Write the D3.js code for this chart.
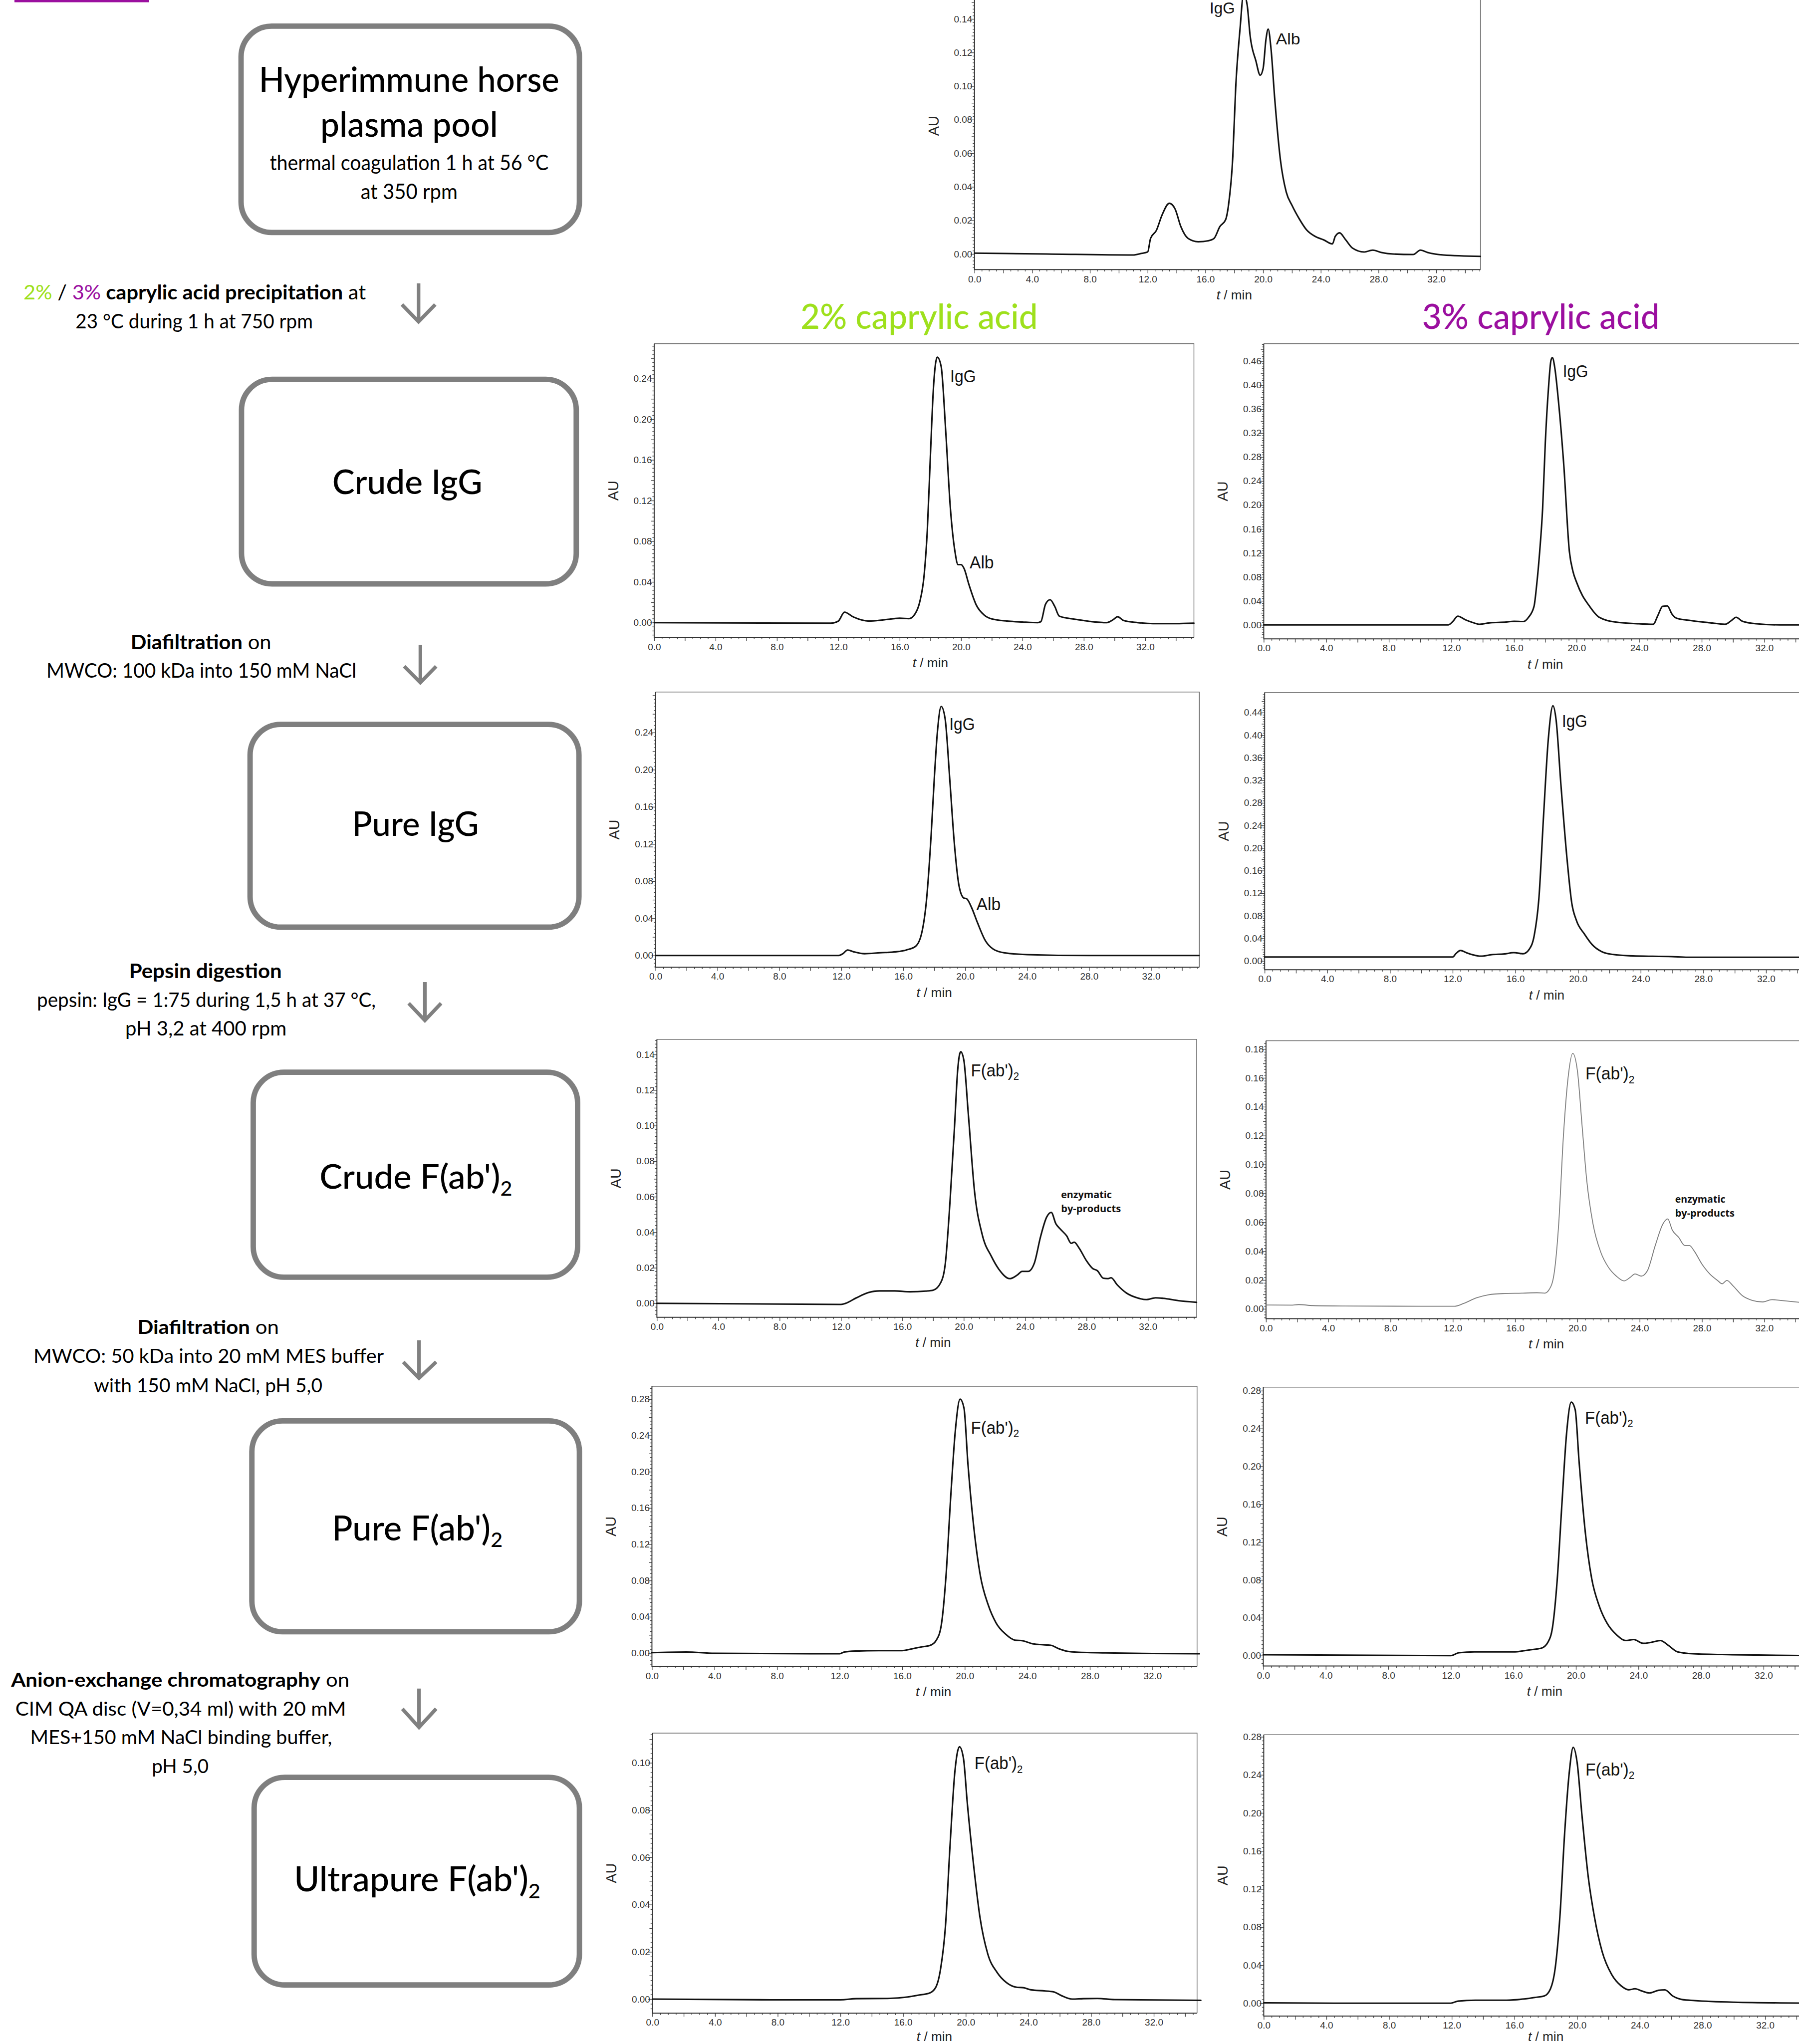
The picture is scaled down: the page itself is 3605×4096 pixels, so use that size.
<!DOCTYPE html>
<html><head><meta charset="utf-8">
<script src="https://cdn.jsdelivr.net/npm/d3@7"></script>
<style>body{margin:0;background:#fff}</style>
</head><body>
<svg id="fig"></svg>
<script>
// ---------------- DATA (t / min, AU) ----------------
const plasmaPool = [[0,0.0005],[5,0],[11,-0.0006],[11.5,0.0002],[12.0,0.0012],[12.2,0.0093],[12.6,0.014],[13.0,0.0233],[13.5,0.0302],[13.9,0.0268],[14.3,0.0163],[14.8,0.0093],[15.5,0.0073],[16.2,0.0079],[16.6,0.0093],[17.0,0.0163],[17.4,0.0204],[17.6,0.029],[17.9,0.058],[18.1,0.099],[18.4,0.134],[18.65,0.155],[18.9,0.148],[19.1,0.130],[19.5,0.115],[19.8,0.1065],[20.0,0.1105],[20.2,0.128],[20.35,0.134],[20.55,0.122],[20.8,0.093],[21.2,0.056],[21.6,0.037],[22.0,0.029],[22.5,0.021],[23.0,0.0145],[23.6,0.0105],[24.2,0.0084],[24.8,0.006],[25.0,0.0105],[25.3,0.0126],[25.7,0.0087],[26.2,0.0035],[27.0,0.0012],[27.6,0.0023],[28.2,0.0009],[29.0,0],[30.4,-0.0003],[30.9,0.0023],[31.4,0.0009],[32.5,-0.0006],[35.06,-0.0014]];
const crudeIgG2 = [[0,0],[11.5,-0.0006],[12.0,0.0015],[12.4,0.0103],[13.0,0.0054],[14.0,0.0015],[15.0,0.0028],[16.0,0.0043],[16.6,0.0039],[17.0,0.0086],[17.3,0.020],[17.6,0.048],[17.8,0.091],[18.0,0.164],[18.2,0.231],[18.45,0.261],[18.7,0.252],[19.0,0.188],[19.3,0.113],[19.6,0.070],[19.8,0.057],[20.0,0.057],[20.2,0.053],[20.5,0.038],[21.0,0.017],[21.5,0.0075],[22.0,0.0036],[23.0,0.0015],[24.0,0.0006],[25.0,0],[25.2,0.001],[25.5,0.018],[25.8,0.0225],[26.1,0.016],[26.4,0.0064],[27.0,0.0043],[27.5,0.0032],[28.5,0.001],[29.5,0],[29.9,0.0028],[30.2,0.0058],[30.6,0.002],[31.5,0],[32.5,-0.001],[34,-0.001],[35.17,-0.0006]];
const crudeIgG3 = [[0,0],[11.8,0],[12.1,0.006],[12.4,0.0145],[12.9,0.0084],[13.4,0.0036],[13.8,0.001],[14.5,0.0036],[15.5,0.0047],[16.0,0.006],[16.6,0.0055],[16.93,0.0127],[17.28,0.031],[17.45,0.067],[17.64,0.122],[17.83,0.195],[18.0,0.304],[18.2,0.394],[18.36,0.441],[18.45,0.446],[18.6,0.43],[18.83,0.376],[19.18,0.267],[19.54,0.122],[19.77,0.089],[20.0,0.071],[20.37,0.049],[20.72,0.035],[21.44,0.0127],[22.5,0.0047],[24.0,0.0018],[24.9,0.001],[25.2,0.016],[25.5,0.031],[25.8,0.0316],[26.1,0.018],[26.4,0.011],[27.3,0.0073],[28.5,0.0036],[29.5,0.001],[29.9,0.0073],[30.2,0.0127],[30.6,0.006],[31.5,0.0018],[33,0],[35.2,0]];
const pureIgG2 = [[0,0],[11.8,0],[12.1,0.002],[12.4,0.006],[12.8,0.004],[13.5,0.002],[14.5,0.003],[15.5,0.004],[16.2,0.006],[16.8,0.010],[17.2,0.025],[17.5,0.06],[17.8,0.13],[18.0,0.19],[18.2,0.24],[18.45,0.268],[18.7,0.255],[19.0,0.19],[19.3,0.12],[19.6,0.075],[19.9,0.062],[20.1,0.061],[20.4,0.052],[20.8,0.035],[21.3,0.016],[21.8,0.007],[22.5,0.003],[24,0.001],[28,0],[35.1,0]];
const pureIgG3 = [[0,0.007],[12.0,0.007],[12.2,0.0128],[12.5,0.0186],[12.9,0.0143],[13.3,0.0108],[13.8,0.0085],[14.5,0.0112],[15.3,0.0124],[15.9,0.0147],[16.5,0.0128],[16.9,0.0213],[17.2,0.0445],[17.5,0.110],[17.8,0.257],[18.1,0.392],[18.4,0.452],[18.6,0.427],[18.9,0.315],[19.3,0.180],[19.6,0.1025],[19.9,0.0715],[20.4,0.048],[20.9,0.029],[21.5,0.0166],[22.2,0.0116],[23.5,0.0089],[26,0.0077],[27,0.0066],[35.2,0.0066]];
const crudeFab2 = [[0,0],[12.0,-0.0006],[12.3,0],[13.0,0.0031],[13.8,0.0061],[14.5,0.007],[15.5,0.007],[16.5,0.0065],[17.5,0.0069],[18.0,0.0074],[18.5,0.0117],[18.8,0.0227],[19.1,0.057],[19.4,0.100],[19.6,0.131],[19.8,0.1416],[20.0,0.137],[20.3,0.106],[20.7,0.063],[21.2,0.0387],[21.8,0.0264],[22.3,0.019],[23.0,0.0139],[23.5,0.016],[23.8,0.018],[24.2,0.018],[24.6,0.0227],[25.0,0.0374],[25.4,0.0485],[25.7,0.0512],[26.0,0.0448],[26.3,0.0417],[26.7,0.038],[27.0,0.0338],[27.2,0.0344],[27.5,0.0313],[28.0,0.0239],[28.4,0.0196],[28.7,0.0184],[29.1,0.0141],[29.4,0.0139],[29.6,0.0144],[30.0,0.0104],[30.6,0.0058],[31.3,0.0031],[31.9,0.0021],[32.5,0.0031],[33.0,0.0028],[34.0,0.0015],[35.17,0.0006]];
const crudeFab3 = [[0,0.0027],[1.6,0.0026],[2.1,0.003],[3.0,0.0023],[5.0,0.002],[10,0.0018],[12.1,0.0018],[12.7,0.0038],[13.5,0.0076],[14.3,0.0098],[15.2,0.0106],[16.5,0.0109],[17.4,0.0112],[17.9,0.0109],[18.2,0.0136],[18.5,0.0242],[18.8,0.059],[19.1,0.1195],[19.4,0.160],[19.7,0.177],[20.0,0.165],[20.3,0.127],[20.6,0.089],[21.0,0.059],[21.5,0.0393],[22.0,0.0287],[22.5,0.0227],[23.0,0.0194],[23.4,0.0219],[23.7,0.0242],[24.1,0.0227],[24.5,0.0265],[25.0,0.0439],[25.5,0.059],[25.8,0.0623],[26.1,0.0545],[26.5,0.0496],[26.9,0.0439],[27.2,0.0439],[27.5,0.0401],[28.0,0.031],[28.5,0.0242],[29.0,0.0197],[29.3,0.0174],[29.6,0.0197],[30.0,0.0159],[30.6,0.0091],[31.2,0.006],[31.9,0.0048],[32.5,0.0064],[33.2,0.0057],[35.2,0.0035]];
const pureFab2 = [[0,0.0005],[2.2,0.0012],[4,-0.0002],[12.0,-0.0007],[12.3,0.0012],[13.0,0.0022],[14.5,0.0027],[16.0,0.0027],[16.5,0.0042],[17.2,0.0067],[17.8,0.0086],[18.2,0.0148],[18.5,0.031],[18.8,0.085],[19.1,0.172],[19.4,0.246],[19.7,0.280],[19.95,0.270],[20.2,0.209],[20.6,0.135],[21.0,0.085],[21.5,0.053],[22.0,0.0333],[22.6,0.021],[23.2,0.0143],[23.7,0.0136],[24.3,0.0104],[24.8,0.0094],[25.5,0.0086],[26.0,0.0049],[26.5,0.0022],[27.0,0.0012],[29,0.0002],[32,-0.0005],[35,-0.0007]];
const pureFab3 = [[0,0.001],[12,0],[12.5,0.003],[13.5,0.004],[16,0.004],[17,0.006],[17.8,0.008],[18.2,0.014],[18.5,0.03],[18.8,0.08],[19.1,0.16],[19.4,0.235],[19.7,0.268],[19.95,0.26],[20.2,0.205],[20.6,0.13],[21.0,0.082],[21.5,0.052],[22.0,0.034],[22.6,0.022],[23.2,0.016],[23.7,0.017],[24.3,0.013],[24.8,0.014],[25.4,0.016],[25.9,0.011],[26.5,0.004],[27.5,0.002],[30,0.001],[35.2,0]];
const ultraFab2 = [[0,0],[8,-0.0003],[12.0,-0.0003],[13,0.0002],[15,0.0003],[16.3,0.0009],[17.0,0.0017],[17.7,0.0026],[18.1,0.0052],[18.4,0.0131],[18.7,0.0305],[19.0,0.0654],[19.3,0.0959],[19.6,0.1068],[19.85,0.102],[20.1,0.0828],[20.5,0.0567],[20.9,0.0349],[21.4,0.0192],[22.0,0.0113],[22.6,0.007],[23.2,0.0051],[23.7,0.0048],[24.2,0.0039],[25.0,0.0035],[25.6,0.0031],[26.1,0.0015],[26.8,0],[27.5,0.0002],[28.4,0.0003],[29.5,-0.0002],[35,-0.0005]];
const ultraFab3 = [[0,0.0004],[5,0],[11.9,0],[12.4,0.0022],[13.5,0.0032],[15.5,0.0032],[16.5,0.0043],[17.3,0.0061],[17.9,0.0076],[18.3,0.0152],[18.6,0.0368],[18.9,0.091],[19.2,0.178],[19.5,0.243],[19.75,0.269],[20.0,0.253],[20.3,0.199],[20.7,0.134],[21.1,0.091],[21.6,0.054],[22.2,0.0303],[22.8,0.0184],[23.3,0.0141],[23.7,0.0152],[24.1,0.013],[24.6,0.0108],[25.2,0.0136],[25.6,0.0141],[26.1,0.0076],[26.7,0.0039],[27.5,0.0028],[30,0.0011],[35.2,0]];

// y tick labels (3% crude IgG top label printed as 0.46 in the original)
const yLabelsCrude3 = ["0.00","0.04","0.08","0.12","0.16","0.20","0.24","0.28","0.32","0.36","0.40","0.46"];
const xTickLabels = ["0.0","4.0","8.0","12.0","16.0","20.0","24.0","28.0","32.0"];

const GREEN = "#9ee01c", PURPLE = "#9b0f9f";

// ---------------- LAYOUT ----------------
const svg = d3.select('#fig').attr('width',3605).attr('height',4096).attr('viewBox','0 0 3993 4537');
svg.append('rect').attr('width',3993).attr('height',4537).attr('fill','#fff');

const NARROW = "'Liberation Sans Narrow','Arial Narrow','Liberation Sans',Arial,sans-serif";
const LATO = "Lato,'Open Sans','Noto Sans',sans-serif";

function fitX(sel, target, ax){
  const w = sel.node().getBBox().width;
  if(!w) return;
  const s = target / w;
  sel.attr('transform', `translate(${ax},0) scale(${s},1) translate(${-ax},0)`);
}

// purple bar at top-left
svg.append('rect').attr('x',32).attr('y',0).attr('width',299).attr('height',5).attr('fill',PURPLE);

// ---------------- FLOW CHART ----------------
const boxes = [
  {x0:535,y0:58,x1:1286,y1:516},
  {x0:536,y0:842,x1:1279,y1:1296},
  {x0:555,y0:1608,x1:1285,y1:2058},
  {x0:562,y0:2380,x1:1282,y1:2835},
  {x0:559,y0:3154,x1:1286,y1:3622},
  {x0:564,y0:3945,x1:1286,y1:4406}
];
svg.selectAll('rect.box').data(boxes).join('rect').attr('class','box')
  .attr('x',d=>d.x0).attr('y',d=>d.y0).attr('width',d=>d.x1-d.x0).attr('height',d=>d.y1-d.y0)
  .attr('rx',68).attr('ry',68).attr('fill','none').attr('stroke','#7f7f7f').attr('stroke-width',12);

const arrows = [
  {x:929,y0:629,y1:714,wy:676,wx0:892,wx1:966},
  {x:933,y0:1431,y1:1515,wy:1479,wx0:897,wx1:968},
  {x:943,y0:2180,y1:2265,wy:2227,wx0:907,wx1:979},
  {x:930,y0:2975,y1:3059,wy:3023,wx0:895,wx1:968},
  {x:930,y0:3748,y1:3834,wy:3793,wx0:893,wx1:968}
];
arrows.forEach(a=>{
  svg.append('path').attr('d',`M${a.x},${a.y0}V${a.y1}M${a.wx0},${a.wy}L${a.x},${a.y1}L${a.wx1},${a.wy}`)
    .attr('fill','none').attr('stroke','#808080').attr('stroke-width',8).attr('stroke-linejoin','miter');
});

const L = 400, M = 700, T = 500;
const flowText = [
 {cx:908, y:204, size:76, w:667, parts:[['Hyperimmune horse',T]]},
 {cx:908, y:304, size:76, w:394, parts:[['plasma pool',T]]},
 {cx:908, y:378, size:47, w:619, parts:[['thermal coagulation 1 h at 56 °C',L]]},
 {cx:908, y:442, size:47, w:215, parts:[['at 350 rpm',L]]},
 {cx:432, y:665, size:44, w:760, parts:[['2%',L,GREEN],[' / ',L],['3%',L,PURPLE],[' caprylic acid precipitation',M],[' at',L]]},
 {cx:431, y:729, size:44, w:527, parts:[['23 °C during 1 h at 750 rpm',L]]},
 {cx:904, y:1097, size:74, w:333, parts:[['Crude IgG',T]]},
 {cx:446, y:1441, size:44, w:312, parts:[['Diafiltration',M],[' on',L]]},
 {cx:447, y:1504, size:44, w:688, parts:[['MWCO: 100 kDa into 150 mM NaCl',L]]},
 {cx:922, y:1855, size:74, w:282, parts:[['Pure IgG',T]]},
 {cx:456, y:2171, size:44, w:339, parts:[['Pepsin digestion',M]]},
 {cx:458, y:2235, size:44, w:752, parts:[['pepsin: IgG = 1:75 during 1,5 h at 37 °C,',L]]},
 {cx:457, y:2298, size:44, w:358, parts:[['pH 3,2 at 400 rpm',L]]},
 {cx:923, y:2639, size:74, w:428, parts:[["Crude F(ab')",T],['2',T,null,true]]},
 {cx:462, y:2961, size:42, w:314, parts:[['Diafiltration',M],[' on',L]]},
 {cx:463, y:3025, size:42, w:778, parts:[['MWCO: 50 kDa into 20 mM MES buffer',L]]},
 {cx:462, y:3090, size:42, w:507, parts:[['with 150 mM NaCl, pH 5,0',L]]},
 {cx:926, y:3419, size:76, w:379, parts:[["Pure F(ab')",T],['2',T,null,true]]},
 {cx:400, y:3744, size:42, w:752, parts:[['Anion-exchange chromatography',M],[' on',L]]},
 {cx:401, y:3808, size:42, w:734, parts:[['CIM QA disc (V=0,34 ml) with 20 mM',L]]},
 {cx:402, y:3871, size:42, w:670, parts:[['MES+150 mM NaCl binding buffer,',L]]},
 {cx:400, y:3936, size:42, w:126, parts:[['pH 5,0',L]]},
 {cx:926, y:4198, size:76, w:547, parts:[["Ultrapure F(ab')",T],['2',T,null,true]]}
];
flowText.forEach(t=>{
  const el = svg.append('text').attr('x',t.cx).attr('y',t.y).attr('text-anchor','middle')
    .attr('font-family',LATO).attr('font-size',t.size).attr('fill','#000');
  t.parts.forEach(p=>{
    const ts = el.append('tspan').text(p[0]).attr('font-weight',p[1]);
    if(p[2]) ts.attr('fill',p[2]);
    if(p[3]) ts.attr('font-size',t.size*0.6).attr('dy',t.size*0.2);
  });
  fitX(el, t.w, t.cx);
});

// column titles
[{txt:'2% caprylic acid',cx:2040,c:GREEN},{txt:'3% caprylic acid',cx:3420,c:PURPLE}].forEach(d=>{
  const el = svg.append('text').attr('x',d.cx).attr('y',730).attr('text-anchor','middle')
    .attr('font-family',LATO).attr('font-size',78).attr('font-weight',500).attr('fill',d.c).text(d.txt);
  fitX(el, 527, d.cx);
});

// ---------------- CHROMATOGRAMS ----------------
const panels = [
 {data:plasmaPool, left:2163, ppm:32.03, right:3286, y0:563.8, ppu:3726.5, top:-40, bottom:598.5, step:0.02, nMaj:7, lsize:34,
   labels:[{t:'IgG',x:2685,y:30,w:56},{t:'Alb',x:2832,y:99,w:54}]},
 {data:crudeIgG2, left:1452, ppm:34.06, right:2650, y0:1382, ppu:2257.5, top:763, bottom:1415, step:0.04, nMaj:6,
   labels:[{t:'IgG',x:2109,y:849,w:57},{t:'Alb',x:2152,y:1262,w:54}]},
 {data:crudeIgG3, left:2805, ppm:34.72, right:4030, y0:1387, ppu:1330.5, top:763, bottom:1418, step:0.04, nMaj:11, ylabels:yLabelsCrude3,
   labels:[{t:'IgG',x:3469,y:837,w:56}]},
 {data:pureIgG2, left:1455, ppm:34.37, right:2662, y0:2121, ppu:2062.5, top:1536, bottom:2147, step:0.04, nMaj:6,
   labels:[{t:'IgG',x:2107,y:1620,w:57},{t:'Alb',x:2167,y:2020,w:54}]},
 {data:pureIgG3, left:2807, ppm:34.78, right:4030, y0:2133, ppu:1253, top:1537, bottom:2152.5, step:0.04, nMaj:11,
   labels:[{t:'IgG',x:3467,y:1614,w:56}]},
 {data:crudeFab2, left:1458, ppm:34.06, right:2656, y0:2893, ppu:3945, top:2307, bottom:2924, step:0.02, nMaj:7,
   labels:[{t:"F(ab')",sub:'2',x:2155,y:2389,w:107}],
   notes:[{t:'enzymatic',x:2355,y:2659,w:113},{t:'by-products',x:2355,y:2690,w:133}]},
 {data:crudeFab3, left:2810, ppm:34.56, right:4030, y0:2905.3, ppu:3204.5, top:2310, bottom:2927, step:0.02, nMaj:9, gray:true,
   labels:[{t:"F(ab')",sub:'2',x:3519,y:2396,w:109}],
   notes:[{t:'enzymatic',x:3718,y:2669,w:112},{t:'by-products',x:3718,y:2700,w:132}]},
 {data:pureFab2, left:1447, ppm:34.72, right:2657, y0:3669.3, ppu:2012.8, top:3077, bottom:3699, step:0.04, nMaj:7,
   labels:[{t:"F(ab')",sub:'2',x:2155,y:3182,w:107}]},
 {data:pureFab3, left:2804, ppm:34.7, right:4030, y0:3675, ppu:2100, top:3079, bottom:3698, step:0.04, nMaj:7,
   labels:[{t:"F(ab')",sub:'2',x:3518,y:3160,w:107}]},
 {data:ultraFab2, left:1448, ppm:34.78, right:2657, y0:4437.4, ppu:5245, top:3847, bottom:4468.5, step:0.02, nMaj:5,
   labels:[{t:"F(ab')",sub:'2',x:2163,y:3927,w:107}]},
 {data:ultraFab3, left:2805, ppm:34.78, right:4030, y0:4446.5, ppu:2111.8, top:3850.6, bottom:4475, step:0.04, nMaj:7,
   labels:[{t:"F(ab')",sub:'2',x:3519,y:3941,w:109}]}
];

function drawPanel(p){
  const tMax = (p.right - p.left)/p.ppm;
  const yMin = -(p.bottom - p.y0)/p.ppu;
  const yMax = (p.y0 - p.top)/p.ppu;
  const x = d3.scaleLinear().domain([0,tMax]).range([p.left,p.right]);
  const y = d3.scaleLinear().domain([yMin,yMax]).range([p.bottom,p.top]);
  const g = svg.append('g');

  // frame (top + right)
  g.append('path').attr('d',`M${x(0)},${y(yMax)}H${x(tMax)}V${y(yMin)}`)
    .attr('fill','none').attr('stroke','#6a6a6a').attr('stroke-width',1.6);

  // y ticks
  const sub = p.step/10;
  const ks = d3.range(Math.ceil(yMin/sub-1e-6), Math.floor(yMax/sub+1e-6)+1);
  const minorV = ks.filter(k=>k%5!==0).map(k=>k*sub);
  const medV = ks.filter(k=>k%5===0 && k%10!==0).map(k=>k*sub);
  const majV = ks.filter(k=>k%10===0 && k>=0 && k/10<=p.nMaj).map(k=>k*sub);
  const otherMaj = ks.filter(k=>k%10===0 && !(k>=0 && k/10<=p.nMaj)).map(k=>k*sub);
  const styleAxis = sel => { sel.select('.domain').remove(); sel.selectAll('line').attr('stroke','#444').attr('stroke-width',1.5); };
  g.append('g').attr('transform',`translate(${x(0)},0)`).call(d3.axisLeft(y).tickValues(minorV).tickSize(4).tickFormat('')).call(styleAxis);
  g.append('g').attr('transform',`translate(${x(0)},0)`).call(d3.axisLeft(y).tickValues(medV.concat(otherMaj)).tickSize(6.5).tickFormat('')).call(styleAxis);
  const labels = p.ylabels || majV.map(v=>v.toFixed(2));
  const yax = g.append('g').attr('transform',`translate(${x(0)},0)`)
    .call(d3.axisLeft(y).tickValues(majV).tickSize(9).tickPadding(-4).tickFormat((d,i)=>labels[i]))
    .call(styleAxis);
  yax.selectAll('text').attr('font-family',NARROW).attr('font-size',21).attr('fill','#333');

  // x ticks
  const xs = d3.range(0, Math.floor(tMax*2+1e-6)+1).map(k=>k/2);
  g.append('g').attr('transform',`translate(0,${y(yMin)})`).call(d3.axisBottom(x).tickValues(xs.filter(v=>v%2!==0)).tickSize(4).tickFormat('')).call(styleAxis);
  g.append('g').attr('transform',`translate(0,${y(yMin)})`).call(d3.axisBottom(x).tickValues(xs.filter(v=>v%2===0 && (v%4!==0 || v>32))).tickSize(8).tickFormat('')).call(styleAxis);
  const xMaj = d3.range(0,33,4);
  const xax = g.append('g').attr('transform',`translate(0,${y(yMin)})`)
    .call(d3.axisBottom(x).tickValues(xMaj).tickSize(8).tickPadding(5).tickFormat((d,i)=>xTickLabels[i]))
    .call(styleAxis);
  xax.selectAll('text').attr('font-family',NARROW).attr('font-size',21).attr('fill','#333');

  // axis lines
  g.append('path').attr('d',`M${x(0)},${y(yMax)}V${y(yMin)}H${x(tMax)}`)
    .attr('fill','none').attr('stroke','#333').attr('stroke-width',2.2);

  // axis titles
  const midY = (y(yMin)+y(yMax))/2;
  g.append('text').attr('transform',`translate(${x(0)-80},${midY}) rotate(-90)`).attr('text-anchor','middle')
    .attr('font-family',"'Liberation Sans',Arial,sans-serif").attr('font-size',32).attr('fill','#222').text('AU');
  const xt = g.append('text').attr('x',x(18)).attr('y',Math.min(y(yMin)+66, 4530)).attr('text-anchor','middle')
    .attr('font-family',NARROW).attr('font-size',29).attr('fill','#222');
  xt.append('tspan').attr('font-style','italic').text('t');
  xt.append('tspan').text(' / min');

  // curve
  const line = d3.line().x(d=>x(d[0])).y(d=>y(d[1])).curve(d3.curveMonotoneX);
  g.append('path').datum(p.data).attr('d',line).attr('fill','none')
    .attr('stroke', p.gray ? '#7a7a7a' : '#111').attr('stroke-width', p.gray ? 2 : 3.4)
    .attr('stroke-linejoin','round').attr('stroke-linecap','round');

  // peak labels
  (p.labels||[]).forEach(l=>{
    const fs = p.lsize || 38;
    const el = g.append('text').attr('x',l.x).attr('y',l.y).attr('font-family',NARROW).attr('font-size',fs).attr('fill','#111');
    el.append('tspan').text(l.t);
    if(l.sub) el.append('tspan').text(l.sub).attr('font-size',fs*0.62).attr('dy',fs*0.22);
    fitX(el, l.w, l.x);
  });
  (p.notes||[]).forEach(n=>{
    const el = g.append('text').attr('x',n.x).attr('y',n.y).attr('font-family',"'Open Sans','Liberation Sans',sans-serif")
      .attr('font-weight',700).attr('font-size',21).attr('fill','#111').text(n.t);
    fitX(el, n.w, n.x);
  });
}
panels.forEach(drawPanel);
</script>
</body></html>
